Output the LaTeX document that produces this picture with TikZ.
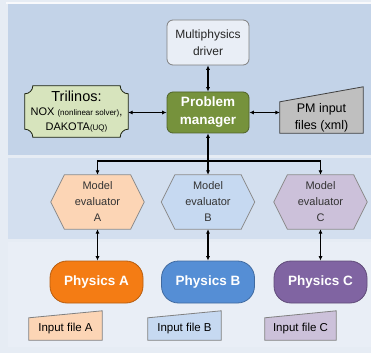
\documentclass[tikz,border=0pt]{standalone}
\usepackage{fontspec}
\setmainfont{Liberation Sans}
\usetikzlibrary{arrows.meta, backgrounds, calc}

\definecolor{outerbg}{HTML}{E6ECF4}
\definecolor{bandtop}{HTML}{C3D3E8}
\definecolor{bandmid}{HTML}{D3DFEF}
\definecolor{bandlow}{HTML}{E9EEF6}
\definecolor{drvfill}{HTML}{E9EEF6}
\definecolor{pmfill}{HTML}{76923C}
\definecolor{pmline}{HTML}{4F6228}
\definecolor{trifill}{HTML}{D7E4BD}
\definecolor{pminfill}{HTML}{BFBFBF}
\definecolor{fillA}{HTML}{FCD5B5}
\definecolor{fillB}{HTML}{C6D9F1}
\definecolor{fillC}{HTML}{CCC1DA}
\definecolor{physA}{HTML}{F47C14}
\definecolor{physB}{HTML}{558ED5}
\definecolor{physC}{HTML}{8064A2}

\tikzset{
  link/.style={line width=1.2pt, {Latex[length=4.5pt,width=4.2pt]}-{Latex[length=4.5pt,width=4.2pt]}},
  linkend/.style={line width=1.2pt, -{Latex[length=4.5pt,width=4.2pt]}},
  driverbox/.style={draw=black!50, fill=drvfill, line width=0.8pt, rounded corners=6pt,
    minimum width=82pt, minimum height=45pt, inner sep=0pt, align=center,
    font=\fontsize{12}{16.5}\selectfont, text=black!85},
  managerbox/.style={draw=pmline, fill=pmfill, line width=0.8pt, rounded corners=6pt,
    minimum width=82pt, minimum height=41pt, inner sep=0pt, align=center,
    font=\bfseries\fontsize{13.5}{18}\selectfont, text=white},
  evalbox/.style={minimum width=66pt, minimum height=54pt, inner sep=0pt, align=center,
    font=\fontsize{11}{16}\selectfont, text=black!80},
  evalshape/.style={draw=black!45, fill=#1, line width=0.8pt},
  physbox/.style={draw=#1!75!black, fill=#1, line width=0.8pt, rounded corners=17pt,
    minimum width=93pt, minimum height=42pt, inner sep=0pt,
    font=\bfseries\fontsize{13.5}{15}\selectfont, text=white},
  filebox/.style={minimum width=73pt, minimum height=22pt, inner sep=0pt,
    font=\fontsize{11.5}{12}\selectfont},
  fileshape/.style={draw=black!50, fill=#1, line width=0.8pt}
}

\begin{document}
\begin{tikzpicture}[x=1pt,y=1pt]
\useasboundingbox (0,0) rectangle (371,353);

% background bands
\begin{scope}[on background layer]
  \fill[outerbg] (0,0) rectangle (371,353);
  \fill[white!70!outerbg] (6,349) rectangle (371,351);
  \fill[bandtop] (8,198) rectangle (371,349);
  \fill[bandmid] (8,114) rectangle (371,195);
  \fill[bandlow] (8,6) rectangle (371,111);
\end{scope}

% top level
\node[driverbox] (drv) at (208,310.5) {Multiphysics\\driver};
\node[managerbox] (pm) at (208,240.5) {Problem\\manager};
\node[minimum width=103pt, minimum height=51pt, inner sep=0pt, align=center,
  font=\fontsize{11}{14.5}\selectfont] (tri) at (76.5,241.5)
  {{\fontsize{14.5}{14.5}\selectfont Trilinos:}\\
   NOX {\fontsize{8}{9}\selectfont(nonlinear solver)},\\
   DAKOTA{\fontsize{8}{9}\selectfont(UQ)}};
\node[minimum width=83pt, minimum height=31pt, inner sep=0pt, align=center,
  font=\fontsize{12.5}{17}\selectfont] (pmin) at (321.5,235.5) {PM input\\files (xml)};

\begin{scope}[on background layer]
  \draw[draw=black!65!pmline, fill=trifill, line width=0.8pt]
    ($(tri.north west)+(8,0)$) -- ($(tri.north east)+(-8,0)$)
    arc[start angle=180, end angle=270, radius=8]
    -- ($(tri.south east)+(0,8)$)
    arc[start angle=90, end angle=180, radius=8]
    -- ($(tri.south west)+(8,0)$)
    arc[start angle=0, end angle=90, radius=8]
    -- ($(tri.north west)+(0,-8)$)
    arc[start angle=270, end angle=360, radius=8] -- cycle;
  \draw[draw=black!75, fill=pminfill, line width=0.8pt]
    (pmin.south west) -- (pmin.south east) -- ($(pmin.north east)+(0,15)$)
    -- (pmin.north west) -- cycle;
\end{scope}

\draw[link] (drv.south) -- (pm.north);
\draw[link] (tri.east |- pm.west) -- (pm.west);
\draw[link] (pm.east) -- (pm.east -| pmin.west);

% model evaluators
\node[evalbox] (ma) at (97.5,151) {Model\\evaluator\\A};
\node[evalbox] (mb) at (208,151) {Model\\evaluator\\B};
\node[evalbox] (mc) at (320.5,151) {Model\\evaluator\\C};

\begin{scope}[on background layer]
  \foreach \m/\c in {ma/fillA, mb/fillB, mc/fillC}
    \draw[evalshape=\c] (\m.north west) -- (\m.north east) -- ($(\m.east)+(13.5,0)$)
      -- (\m.south east) -- (\m.south west) -- ($(\m.west)+(-13.5,0)$) -- cycle;
\end{scope}

\coordinate (bus) at (208,192);
\draw[link] (pm.south) -- (mb.north);
\draw[linkend] (bus) -| (ma.north);
\draw[linkend] (bus) -| (mc.north);

% physics
\node[physbox=physA] (pa) at (96.5,71) {Physics A};
\node[physbox=physB] (pb) at (208,71) {Physics B};
\node[physbox=physC] (pc) at (320.5,71) {Physics C};

\draw[link] (ma.south) -- (ma.south |- pa.north);
\draw[link] (mb.south) -- (pb.north);
\draw[link] (mc.south) -- (mc.south |- pc.north);

% input files
\node[filebox] (fa) at (65.5,24) {Input file A};
\node[filebox] (fb) at (184.5,24) {Input file B};
\node[filebox, minimum width=71pt] (fc) at (300.5,24) {Input file C};

\begin{scope}[on background layer]
  \foreach \f/\c in {fa/fillA, fb/fillB, fc/fillC}
    \draw[fileshape=\c] (\f.south west) -- (\f.south east) -- ($(\f.north east)+(0,7)$)
      -- (\f.north west) -- cycle;
\end{scope}

\end{tikzpicture}
\end{document}
